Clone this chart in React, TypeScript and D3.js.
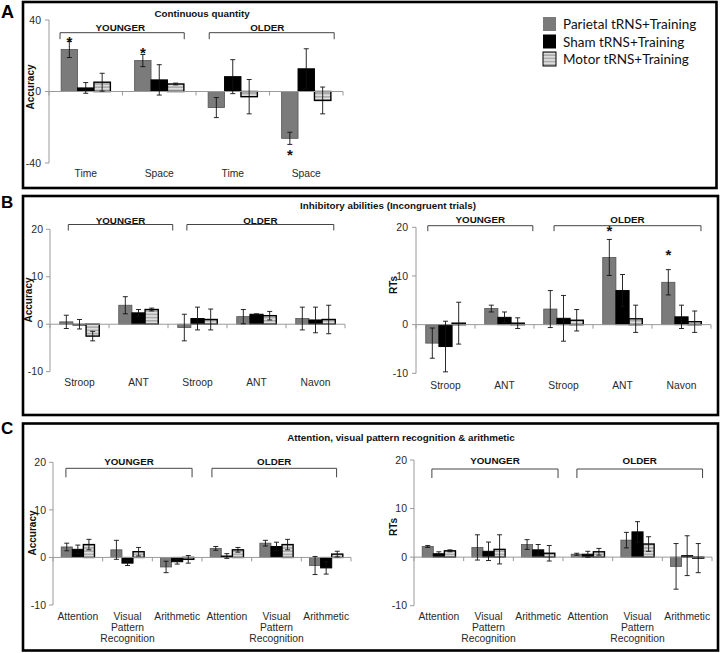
import React from 'react';
import * as d3 from 'd3';

const seriesNames = ['Parietal tRNS+Training', 'Sham tRNS+Training', 'Motor tRNS+Training'];

// Panel A – Continuous quantity (Accuracy)
const aCategories = [['Time'], ['Space'], ['Time'], ['Space']];
const aParietal = [23.5, 17.3, -9.0, -26.2];
const aParietalErr = [4.5, 3.4, 5.6, 3.4];
const aSham = [2.0, 6.5, 8.3, 12.7];
const aShamErr = [3.0, 8.5, 9.5, 11.2];
const aMotor = [5.2, 4.2, -2.9, -5.0];
const aMotorErr = [5.0, 0.5, 9.6, 7.5];
const aTicks = [40, 0, -40];
const aStars = [{ cat: 0, series: 0, value: 29.8 }, { cat: 1, series: 0, value: 23.5 }, { cat: 3, series: 0, value: -33.4 }];

// Panel B – Inhibitory abilities, Accuracy
const bCategories = [['Stroop'], ['ANT'], ['Stroop'], ['ANT'], ['Navon']];
const bAccParietal = [0.5, 4.0, -0.7, 1.6, 1.2];
const bAccParietalErr = [1.4, 1.8, 2.8, 1.5, 2.4];
const bAccSham = [0.0, 2.4, 1.2, 2.1, 0.9];
const bAccShamErr = [1.0, 0.7, 2.4, 0.1, 2.7];
const bAccMotor = [-2.5, 3.1, 1.0, 1.8, 1.0];
const bAccMotorErr = [1.0, 0.3, 2.2, 0.9, 3.0];

// Panel B – Inhibitory abilities, RTs
const bRtParietal = [-3.8, 3.3, 3.2, 13.8, 8.7];
const bRtParietalErr = [3.1, 0.7, 3.8, 3.7, 2.6];
const bRtSham = [-4.5, 1.5, 1.3, 7.0, 1.6];
const bRtShamErr = [5.2, 1.1, 4.7, 3.3, 2.4];
const bRtMotor = [0.3, 0.3, 0.9, 1.2, 0.6];
const bRtMotorErr = [4.3, 1.1, 2.2, 2.8, 2.2];
const bRtStars = [{ cat: 3, series: 0, value: 20.0 }, { cat: 4, series: 0, value: 15.0 }];
const bcTicks = [20, 10, 0, -10];

// Panel C – Attention, visual pattern recognition & arithmetic
const cCategories = [
  ['Attention'], ['Visual', 'Pattern', 'Recognition'], ['Arithmetic'],
  ['Attention'], ['Visual', 'Pattern', 'Recognition'], ['Arithmetic'],
];
const cAccParietal = [2.2, 1.6, -2.0, 1.9, 3.0, -1.7];
const cAccParietalErr = [0.8, 2.0, 1.2, 0.4, 0.6, 1.9];
const cAccSham = [1.7, -1.2, -0.9, 0.3, 2.3, -2.2];
const cAccShamErr = [0.9, 0.5, 0.5, 0.5, 0.9, 1.3];
const cAccMotor = [2.7, 1.2, -0.4, 1.6, 2.7, 0.7];
const cAccMotorErr = [1.1, 0.9, 0.8, 0.5, 1.1, 0.6];

const cRtParietal = [2.2, 2.0, 2.6, 0.6, 3.5, -1.9];
const cRtParietalErr = [0.2, 2.6, 1.0, 0.2, 1.6, 4.7];
const cRtSham = [0.7, 1.2, 1.5, 0.6, 5.2, 0.3];
const cRtShamErr = [0.4, 1.9, 1.1, 0.6, 2.1, 4.1];
const cRtMotor = [1.3, 1.6, 0.8, 1.1, 2.7, -0.2];
const cRtMotorErr = [0.2, 3.0, 1.6, 0.7, 1.5, 3.0];

const groupLabels = ['YOUNGER', 'OLDER'];

const FONT = '"Liberation Sans", Arial, sans-serif';
const AXIS = '#9a9a9a';
const TXT = '#2a2a2a';

type Star = { cat: number; series: number; value: number };
type Bracket = { label: string; from: number; to: number; labelX?: number };
type Cfg = {
  xRange: [number, number];
  yRange: [number, number];
  domain: [number, number];
  ticks: number[];
  categories: string[][];
  values: number[][];
  errs: number[][];
  stars: Star[];
  brackets: Bracket[];
  bracketY: number;
  bracketDrop: number;
  bracketLabelY: number;
  ylabel: string;
  ylabelX: number;
  ylabelY: number;
  catLabelY: number;
  tickLabelGap: number;
};

function BarPanel({ cfg }: { cfg: Cfg }) {
  const n = cfg.categories.length;
  const pad = 0.33;
  const x = d3.scaleBand<number>().domain(d3.range(n)).range(cfg.xRange).paddingInner(pad).paddingOuter(pad / 2);
  const xs = d3.scaleBand<number>().domain([0, 1, 2]).range([0, x.bandwidth()]);
  const y = d3.scaleLinear().domain(cfg.domain).range(cfg.yRange);
  const step = x.step();
  const x0 = cfg.xRange[0];
  const y0 = y(0);
  const fills = ['#7b7b7b', '#000000', 'url(#stripes)'];
  const strokes = ['#555555', '#000000', '#000000'];
  const sw = [0.8, 1, 1.4];
  const bx = (frac: number) => x0 + frac * step;

  return (
    <g>
      <line x1={x0} x2={x0} y1={y(cfg.domain[1])} y2={y(cfg.domain[0])} stroke={AXIS} strokeWidth={1} />
      {cfg.ticks.map((t) => (
        <g key={t}>
          <line x1={x0 - 4} x2={x0} y1={y(t)} y2={y(t)} stroke={AXIS} />
          <text x={x0 - cfg.tickLabelGap} y={y(t) + 3.7} textAnchor="end" fontSize={10.5} fontFamily={FONT} fill={TXT}>
            {t}
          </text>
        </g>
      ))}
      {cfg.values.map((vals, s) =>
        vals.map((v, i) => {
          const yy = y(v);
          return (
            <rect
              key={`b${s}-${i}`}
              x={(x(i) as number) + (xs(s) as number)}
              y={Math.min(yy, y0)}
              width={xs.bandwidth()}
              height={Math.max(0.8, Math.abs(yy - y0))}
              fill={fills[s]}
              stroke={strokes[s]}
              strokeWidth={sw[s]}
            />
          );
        })
      )}
      <line x1={x0} x2={cfg.xRange[1]} y1={y0} y2={y0} stroke={AXIS} strokeWidth={1} />
      {d3.range(n + 1).map((i) => (
        <line key={`xt${i}`} x1={x0 + i * step} x2={x0 + i * step} y1={y0} y2={y0 + 4} stroke={AXIS} />
      ))}
      {cfg.values.map((vals, s) =>
        vals.map((v, i) => {
          const cx = (x(i) as number) + (xs(s) as number) + xs.bandwidth() / 2;
          const e = cfg.errs[s][i];
          const yt = y(v + e);
          const yb = y(v - e);
          return (
            <g key={`e${s}-${i}`} stroke="#111" strokeWidth={0.9}>
              <line x1={cx} x2={cx} y1={yt} y2={yb} />
              <line x1={cx - 2.5} x2={cx + 2.5} y1={yt} y2={yt} />
              <line x1={cx - 2.5} x2={cx + 2.5} y1={yb} y2={yb} />
            </g>
          );
        })
      )}
      {cfg.stars.map((st, k) => {
        const cx = (x(st.cat) as number) + (xs(st.series) as number) + xs.bandwidth() / 2;
        return (
          <text key={`s${k}`} x={cx} y={y(st.value) + 8.5} textAnchor="middle" fontSize={15} fontWeight="bold" fontFamily={FONT} fill="#111">
            *
          </text>
        );
      })}
      {cfg.brackets.map((b, k) => {
        const xa = bx(b.from);
        const xb = bx(b.to);
        const lx = b.labelX !== undefined ? bx(b.labelX) : (xa + xb) / 2;
        return (
          <g key={`br${k}`}>
            <path
              d={`M${xa},${cfg.bracketY + cfg.bracketDrop}V${cfg.bracketY}H${xb}V${cfg.bracketY + cfg.bracketDrop}`}
              fill="none"
              stroke="#444"
              strokeWidth={1}
            />
            <text x={lx} y={cfg.bracketLabelY} textAnchor="middle" fontSize={9.8} fontWeight="bold" fontFamily={FONT} fill="#111">
              {b.label}
            </text>
          </g>
        );
      })}
      {cfg.categories.map((lines, i) => (
        <text key={`c${i}`} x={(x(i) as number) + x.bandwidth() / 2} y={cfg.catLabelY} textAnchor="middle" fontSize={10.3} fontFamily={FONT} fill={TXT}>
          {lines.map((l, j) => (
            <tspan key={j} x={(x(i) as number) + x.bandwidth() / 2} dy={j === 0 ? 0 : 11}>
              {l}
            </tspan>
          ))}
        </text>
      ))}
      <text
        transform={`translate(${cfg.ylabelX},${cfg.ylabelY}) rotate(-90)`}
        textAnchor="middle"
        dy="0.35em"
        fontSize={10}
        fontWeight="bold"
        fontFamily={FONT}
        fill="#111"
      >
        {cfg.ylabel}
      </text>
    </g>
  );
}

const panelA: Cfg = {
  xRange: [49, 343],
  yRange: [163, 20],
  domain: [-40, 40],
  ticks: aTicks,
  categories: aCategories,
  values: [aParietal, aSham, aMotor],
  errs: [aParietalErr, aShamErr, aMotorErr],
  stars: aStars,
  brackets: [
    { label: groupLabels[0], from: 0.15, to: 1.84, labelX: 0.97 },
    { label: groupLabels[1], from: 2.18, to: 3.88, labelX: 2.97 },
  ],
  bracketY: 32.7,
  bracketDrop: 6.5,
  bracketLabelY: 30.5,
  ylabel: 'Accuracy',
  ylabelX: 30,
  ylabelY: 87,
  catLabelY: 177,
  tickLabelGap: 8,
};

const panelBL: Cfg = {
  xRange: [50, 345],
  yRange: [371.7, 229.3],
  domain: [-10, 20],
  ticks: bcTicks,
  categories: bCategories,
  values: [bAccParietal, bAccSham, bAccMotor],
  errs: [bAccParietalErr, bAccShamErr, bAccMotorErr],
  stars: [],
  brackets: [
    { label: groupLabels[0], from: 0.31, to: 2.08 },
    { label: groupLabels[1], from: 2.32, to: 4.81 },
  ],
  bracketY: 224.5,
  bracketDrop: 6,
  bracketLabelY: 224,
  ylabel: 'Accuracy',
  ylabelX: 28,
  ylabelY: 300,
  catLabelY: 386,
  tickLabelGap: 7,
};

const panelBR: Cfg = {
  xRange: [416, 711],
  yRange: [373.3, 227.3],
  domain: [-10, 20],
  ticks: bcTicks,
  categories: bCategories,
  values: [bRtParietal, bRtSham, bRtMotor],
  errs: [bRtParietalErr, bRtShamErr, bRtMotorErr],
  stars: bRtStars,
  brackets: [
    { label: groupLabels[0], from: 0.2, to: 1.98 },
    { label: groupLabels[1], from: 2.34, to: 4.83 },
  ],
  bracketY: 225.7,
  bracketDrop: 5.5,
  bracketLabelY: 222.5,
  ylabel: 'RTs',
  ylabelX: 393,
  ylabelY: 285,
  catLabelY: 389,
  tickLabelGap: 8,
};

const panelCL: Cfg = {
  xRange: [53, 351],
  yRange: [605, 462.3],
  domain: [-10, 20],
  ticks: bcTicks,
  categories: cCategories,
  values: [cAccParietal, cAccSham, cAccMotor],
  errs: [cAccParietalErr, cAccShamErr, cAccMotorErr],
  stars: [],
  brackets: [
    { label: groupLabels[0], from: 0.26, to: 2.8 },
    { label: groupLabels[1], from: 3.2, to: 5.71 },
  ],
  bracketY: 468.3,
  bracketDrop: 9,
  bracketLabelY: 465,
  ylabel: 'Accuracy',
  ylabelX: 32,
  ylabelY: 533,
  catLabelY: 620,
  tickLabelGap: 7,
};

const panelCR: Cfg = {
  xRange: [414, 712],
  yRange: [605.7, 460],
  domain: [-10, 20],
  ticks: bcTicks,
  categories: cCategories,
  values: [cRtParietal, cRtSham, cRtMotor],
  errs: [cRtParietalErr, cRtShamErr, cRtMotorErr],
  stars: [],
  brackets: [
    { label: groupLabels[0], from: 0.36, to: 2.9 },
    { label: groupLabels[1], from: 3.28, to: 5.81 },
  ],
  bracketY: 469,
  bracketDrop: 9,
  bracketLabelY: 464,
  ylabel: 'RTs',
  ylabelX: 393,
  ylabelY: 527,
  catLabelY: 620,
  tickLabelGap: 7,
};

export default function App() {
  const legendFills = ['#7b7b7b', '#000000', 'url(#stripes)'];
  const legendY = [24, 41.5, 59];
  return (
    <svg width={720} height={653} style={{ position: 'absolute', left: 0, top: 0, background: '#fff' }}>
      <defs>
        <pattern id="stripes" patternUnits="userSpaceOnUse" width={4} height={3.2}>
          <rect width={4} height={3.2} fill="#dedede" />
          <rect width={4} height={1.5} fill="#a8a8a8" />
        </pattern>
      </defs>
      <rect x={0} y={0} width={720} height={653} fill="#fff" />
      <rect x={23} y={2} width={693.5} height={186} fill="none" stroke="#000" strokeWidth={2.6} />
      <rect x={23} y={196} width={695} height={219} fill="none" stroke="#000" strokeWidth={2.6} />
      <rect x={23} y={423.5} width={695} height={227} fill="none" stroke="#000" strokeWidth={2.6} />
      <text x={1} y={18} fontSize={18} fontWeight="bold" fontFamily={FONT} fill="#000">A</text>
      <text x={1} y={208} fontSize={17} fontWeight="bold" fontFamily={FONT} fill="#000">B</text>
      <text x={1} y={434} fontSize={17} fontWeight="bold" fontFamily={FONT} fill="#000">C</text>
      <text x={202} y={16.5} textAnchor="middle" fontSize={9.8} fontWeight="bold" fontFamily={FONT} fill="#111">Continuous quantity</text>
      <text x={388} y={208.5} textAnchor="middle" fontSize={9.8} fontWeight="bold" fontFamily={FONT} fill="#111">Inhibitory abilities (Incongruent trials)</text>
      <text x={401} y={441} textAnchor="middle" fontSize={9.8} fontWeight="bold" fontFamily={FONT} fill="#111">Attention, visual pattern recognition &amp; arithmetic</text>
      {seriesNames.map((name, i) => (
        <g key={name}>
          <rect x={543} y={legendY[i] - 7} width={13} height={14} fill={legendFills[i]} stroke={i === 2 ? '#000' : 'none'} strokeWidth={1} />
          <text x={563} y={legendY[i] + 5} fontSize={13.5} fontFamily="Lato, 'Open Sans', sans-serif" fill="#111">{name}</text>
        </g>
      ))}
      <BarPanel cfg={panelA} />
      <BarPanel cfg={panelBL} />
      <BarPanel cfg={panelBR} />
      <BarPanel cfg={panelCL} />
      <BarPanel cfg={panelCR} />
    </svg>
  );
}
